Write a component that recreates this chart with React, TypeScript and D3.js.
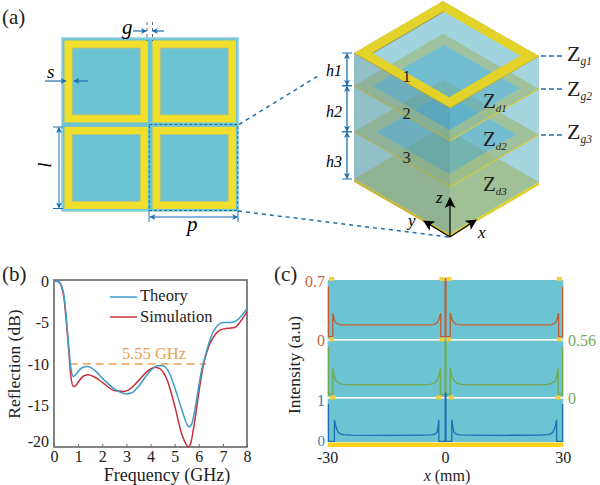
import { useEffect, useRef } from "react";
import * as d3 from "d3";

const SERIF = "'Liberation Serif', serif";

// panel (b)
const freqTicks = [0, 1, 2, 3, 4, 5, 6, 7, 8];
const dbTicks = [0, -5, -10, -15, -20];
const theoryFreq = [0, 0.2, 0.3, 0.4, 0.5, 0.6, 0.7, 0.8, 0.9, 1, 1.2, 1.4, 1.7, 2, 2.5, 3, 3.2, 3.5, 4, 4.3, 4.5, 4.8, 5, 5.3, 5.5, 5.6, 5.7, 5.9, 6.1, 6.3, 6.5, 6.8, 7, 7.3, 7.6, 7.8, 8];
const theoryDb = [0, -0.1, -0.5, -1.5, -4, -7.5, -10.5, -11.5, -11.3, -10.9, -10.4, -10.3, -10.8, -11.7, -13, -13.6, -13.5, -12.7, -10.8, -10.2, -10.2, -11.2, -12.8, -15.5, -17.2, -17.6, -17.3, -14.5, -11, -8.7, -6.8, -5.3, -5, -5, -4.7, -4.1, -3.3];
const simFreq = [0, 0.2, 0.3, 0.4, 0.5, 0.6, 0.7, 0.8, 0.9, 1, 1.2, 1.4, 1.7, 2, 2.5, 2.9, 3.2, 3.5, 4, 4.2, 4.4, 4.7, 5, 5.3, 5.5, 5.55, 5.65, 5.8, 6, 6.2, 6.4, 6.6, 6.9, 7.2, 7.5, 7.7, 8];
const simDb = [0, -0.1, -0.6, -1.8, -4.5, -8, -11.5, -12.7, -12.6, -12.2, -11.5, -11.3, -11.6, -12.2, -13.2, -13.3, -12.9, -12, -10.6, -10.4, -10.6, -12, -15, -18.5, -19.8, -20, -19.7, -17.5, -13.5, -10, -8, -6.8, -5.9, -5.7, -5.6, -5, -3.7];
const bandFreq = [0.65, 6.3];
const bandDb = -10;

// panel (c)
const xTicks = [-30, 0, 30];
const blueX = [-29.8, -29.8, -28.3, -28.3, -27.9, -27.4, -26.8, -26, -24, -15, -6, -4, -3.2, -2.6, -2.1, -1.7, -1.7, -0.1, -0.1, 0.1, 0.1, 1.6, 1.6, 2.1, 2.6, 3.2, 4, 6, 15, 24, 26, 26.8, 27.4, 27.9, 28.3, 28.3, 29.8, 29.8];
const blueY = [0.87, 0, 0, 0.5, 0.33, 0.22, 0.17, 0.155, 0.145, 0.14, 0.145, 0.15, 0.155, 0.17, 0.22, 0.5, 0, 0, 1.12, 1.12, 0, 0, 0.5, 0.22, 0.17, 0.155, 0.15, 0.145, 0.14, 0.145, 0.155, 0.17, 0.22, 0.33, 0.5, 0, 0, 0.87];
const greenX = [-29.8, -29.8, -28.7, -28.7, -28.3, -27.8, -27, -26, -24, -15, -6, -4, -3, -2.3, -1.8, -1.3, -1.3, -0.1, -0.1, 0.1, 0.1, 1.2, 1.2, 1.7, 2.3, 3, 4, 6, 15, 24, 26, 27, 27.8, 28.3, 28.7, 28.7, 29.8, 29.8];
const greenY = [0.49, 0, 0, 0.27, 0.18, 0.135, 0.115, 0.105, 0.1, 0.1, 0.1, 0.105, 0.115, 0.135, 0.18, 0.27, 0, 0, 0.56, 0.56, 0, 0, 0.27, 0.18, 0.135, 0.115, 0.105, 0.1, 0.1, 0.1, 0.105, 0.115, 0.135, 0.18, 0.27, 0, 0, 0.49];
const redX = [-29.8, -29.8, -28.7, -28.7, -28.3, -27.8, -27, -26, -24, -15, -6, -4, -3, -2.3, -1.8, -1.2, -1.2, -0.1, -0.1, 0.1, 0.1, 1.2, 1.2, 1.7, 2.3, 3, 4, 6, 15, 24, 26, 27, 27.8, 28.3, 28.8, 28.8, 29.8, 29.8];
const redY = [0.62, 0, 0, 0.29, 0.2, 0.165, 0.15, 0.145, 0.145, 0.145, 0.145, 0.145, 0.15, 0.165, 0.2, 0.29, 0, 0, 0.72, 0.72, 0, 0, 0.29, 0.2, 0.165, 0.15, 0.145, 0.145, 0.145, 0.145, 0.145, 0.15, 0.165, 0.2, 0.29, 0, 0, 0.62];
const tabsUpper = [-29, -0.9, 0.9, 29];
const tabsLower = [-28.7, -1.7, 1.5, 28.6];

// panel (a) unit cell layout, in periods
const cells = [0, 1];
const ringStart = 0.028;
const ringSize = 0.948;
const ringWidth = 0.088;

// 3d stack: height of each layer, and the width of its frame
const layerZ = [0.375, 0.74, 1];
const layerFrame = [0.12, 0.1, 0.1];
const layerNames = ["3", "2", "1"];
const heightLabels = ["h3", "h2", "h1"];

const W = 600;
const H = 485;

const Italic = ({ x, y, children, size = 17 }: any) => (
  <text x={x} y={y} fontStyle="italic" fontSize={size}>{children}</text>
);

const Impedance = ({ x, y, sub, size = 21 }: any) => (
  <text x={x} y={y} fontSize={size} fill="#222">
    Z<tspan fontSize={size * 0.52} dy={4} fontStyle="italic">{sub}</tspan>
  </text>
);

const Line = ({ x1, y1, x2, y2, both = false, color = "#1f6fb0", w = 1.2 }: any) => (
  <line
    x1={x1} y1={y1} x2={x2} y2={y2} stroke={color} strokeWidth={w}
    markerEnd="url(#arrow)"
    markerStart={both ? "url(#arrowStart)" : undefined}
  />
);

function UnitCells() {
  const sx = d3.scaleLinear().domain([0, 2]).range([62, 238]);
  const sy = d3.scaleLinear().domain([0, 2]).range([38, 211]);
  const rings: any[] = [];
  cells.forEach((c) =>
    cells.forEach((r) => {
      const x0 = sx(c + ringStart);
      const y0 = sy(r + ringStart);
      const w = sx(c + ringStart + ringSize) - x0;
      const h = sy(r + ringStart + ringSize) - y0;
      const tx = sx(ringWidth) - sx(0);
      const ty = sy(ringWidth) - sy(0);
      rings.push(
        <g key={`${c}-${r}`}>
          <rect x={x0} y={y0} width={w} height={h} fill="#f2df2c" />
          <rect x={x0 + tx} y={y0 + ty} width={w - 2 * tx} height={h - 2 * ty} fill="#6cc4d3" stroke="#b7c07a" strokeWidth={0.8} />
        </g>
      );
    })
  );
  return (
    <g>
      <rect x={sx(0)} y={sy(0)} width={sx(2) - sx(0)} height={sy(2) - sy(0)} fill="#6cc4d3" stroke="#8ed0e4" strokeWidth={1.5} />
      {rings}
      <rect x={149.3} y={124.5} width={88.4} height={86} fill="none" stroke="#2a6f8a" strokeWidth={1} strokeDasharray="3 2" />
      {/* g */}
      <Italic x={122} y={34} size={21}>g</Italic>
      <Line x1={133} y1={31} x2={146.5} y2={31} />
      <Line x1={164} y1={31} x2={152.5} y2={31} />
      <line x1={147} y1={22} x2={147} y2={41} stroke="#444" strokeWidth={0.8} strokeDasharray="3 3" />
      <line x1={152.5} y1={22} x2={152.5} y2={41} stroke="#444" strokeWidth={0.8} strokeDasharray="3 3" />
      {/* s */}
      <Italic x={47} y={78} size={19}>s</Italic>
      <Line x1={45} y1={81} x2={66} y2={81} />
      <Line x1={88} y1={81} x2={74} y2={81} />
      {/* l */}
      <text transform="translate(51,165) rotate(-90)" fontStyle="italic" fontSize={19} textAnchor="middle">l</text>
      <line x1={53} y1={127} x2={63} y2={127} stroke="#1f6fb0" strokeWidth={1} />
      <line x1={53} y1={208.5} x2={63} y2={208.5} stroke="#1f6fb0" strokeWidth={1} />
      <Line x1={59} y1={127.5} x2={59} y2={208} both w={1.4} color="#5b9bd0" />
      {/* p */}
      <line x1={149} y1={211} x2={149} y2={222} stroke="#1f6fb0" strokeWidth={1} />
      <line x1={238} y1={211} x2={238} y2={222} stroke="#1f6fb0" strokeWidth={1} />
      <Line x1={150} y1={217} x2={237.5} y2={217} both w={1.4} color="#5b9bd0" />
      <Italic x={187} y={231} size={21}>p</Italic>
      {/* leader lines to the stack */}
      <line x1={239} y1={124.5} x2={318} y2={76} stroke="#1f6fb0" strokeWidth={1.5} strokeDasharray="4 4" />
      <line x1={238} y1={211} x2={449} y2={237} stroke="#1f6fb0" strokeWidth={1.5} strokeDasharray="4 4" />
    </g>
  );
}

function Stack() {
  // oblique projection of the box
  const px = d3.scaleLinear().domain([0, 1]).range([0, 89]);
  const qx = d3.scaleLinear().domain([0, 1]).range([0, -96]);
  const py = d3.scaleLinear().domain([0, 1]).range([0, -52]);
  const qy = d3.scaleLinear().domain([0, 1]).range([0, -55]);
  const zs = d3.scaleLinear().domain([0, 1]).range([0, -126]);
  const P = (x: number, y: number, z: number): [number, number] => [
    450 + px(x) + qx(y),
    234 + py(x) + qy(y) + zs(z),
  ];
  const path = d3.line();
  const quad = (pts: [number, number, number][]) => path(pts.map((p) => P(p[0], p[1], p[2]))) + "Z";
  const diamond = (z: number, t = 0) =>
    quad([[t, t, z], [1 - t, t, z], [1 - t, 1 - t, z], [t, 1 - t, z]]);
  const frame = (z: number, t: number) => diamond(z) + diamond(z, t);
  const edgeLeft = (z: number) => quad([[0, 0, z], [0, 1, z]]).replace("Z", "");
  const edgeRight = (z: number) => quad([[0, 0, z], [1, 0, z]]).replace("Z", "");
  const bases = [0, ...layerZ];
  const top = 1;
  return (
    <g>
      {/* box body */}
      <path d={diamond(top)} fill="#a1d4df" />
      <path d={quad([[0, 0, 0], [1, 0, 0], [1, 0, top], [0, 0, top]])} fill="#a6d4de" />
      <path d={quad([[0, 0, 0], [0, 1, 0], [0, 1, top], [0, 0, top]])} fill="#a6d0d8" />

      {/* ground plane */}
      <path d={diamond(0)} fill="#9fc091" opacity={0.95} />
      <path d={quad([[0, 0, 0], [0, 1, 0], [0, 1, -0.024], [0, 0, -0.024]])} fill="#c6b63a" />
      <path d={quad([[0, 0, 0], [1, 0, 0], [1, 0, -0.024], [0, 0, -0.024]])} fill="#dccf2e" />

      {/* the two sheets inside */}
      {layerZ.slice(0, 2).map((z, i) => (
        <g key={z}>
          <path d={diamond(z, layerFrame[i])} fill="#4fa9c2" opacity={0.55} />
          <path d={frame(z, layerFrame[i])} fillRule="evenodd" fill="#9dbd8a" opacity={0.78} />
          <path d={edgeLeft(z)} stroke="#c9bf45" strokeWidth={1.1} fill="none" />
          <path d={edgeRight(z)} stroke="#d6cc3c" strokeWidth={1.1} fill="none" />
        </g>
      ))}

      {/* darker near left face */}
      <path d={quad([[0, 0, 0], [0, 1, 0], [0, 1, top], [0, 0, top]])} fill="#4d7f8e" opacity={0.2} />

      {/* top frame */}
      <path d={frame(top, layerFrame[2])} fillRule="evenodd" fill="#e3d22a" />
      <path d={edgeLeft(top)} stroke="#a89a28" strokeWidth={0.8} fill="none" />
      <path d={edgeRight(top)} stroke="#bcae28" strokeWidth={0.8} fill="none" />
      <path d={quad([[layerFrame[2], 1 - layerFrame[2], top], [1 - layerFrame[2], 1 - layerFrame[2], top]]).replace("Z", "")} stroke="#8d8a40" strokeWidth={0.8} fill="none" />

      {layerNames.map((n, i) => (
        <text key={n} x={406.5} y={[163, 119, 82][i]} fontSize={16.5} textAnchor="middle" fill="#222">{n}</text>
      ))}
      <Impedance x={483} y={108} sub="d1" />
      <Impedance x={483} y={146} sub="d2" />
      <Impedance x={483} y={191} sub="d3" />

      {/* heights */}
      {heightLabels.map((h, i) => {
        const y0 = P(0, 1, bases[i])[1];
        const y1 = P(0, 1, layerZ[i])[1];
        return (
          <g key={h}>
            <line x1={342} y1={y0} x2={352} y2={y0} stroke="#1f6fb0" strokeWidth={1} />
            <line x1={342} y1={y1} x2={352} y2={y1} stroke="#1f6fb0" strokeWidth={1} />
            <Line x1={347} y1={y0 - 0.5} x2={347} y2={y1 + 0.5} both w={1.4} color="#2a7fbd" />
            <Italic x={326} y={[167, 117, 76][i]} size={16}>{h}</Italic>
          </g>
        );
      })}

      {/* impedances of the sheets */}
      {layerZ.map((z, i) => {
        const y = [135, 89, 56][i];
        return <line key={z} x1={541} y1={y} x2={563} y2={y} stroke="#1f6fb0" strokeWidth={1.5} strokeDasharray="5 3" />;
      })}
      <Impedance x={567} y={61} sub="g1" size={22} />
      <Impedance x={567} y={96} sub="g2" size={22} />
      <Impedance x={567} y={139} sub="g3" size={22} />

      {/* axes */}
      <line x1={450} y1={237} x2={450} y2={198} stroke="#000" strokeWidth={1.2} markerEnd="url(#arrowBlack)" />
      <line x1={450} y1={237} x2={476} y2={220} stroke="#000" strokeWidth={1.2} markerEnd="url(#arrowBlack)" />
      <line x1={450} y1={237} x2={424} y2={221} stroke="#000" strokeWidth={1.2} markerEnd="url(#arrowBlack)" />
      <Italic x={436} y={203} size={17}>z</Italic>
      <Italic x={408} y={226} size={17}>y</Italic>
      <Italic x={478} y={238} size={17}>x</Italic>
    </g>
  );
}

function Reflection() {
  const axisX = useRef<SVGGElement>(null);
  const axisY = useRef<SVGGElement>(null);
  const x = d3.scaleLinear().domain([0, 8]).range([54, 247]);
  const y = d3.scaleLinear().domain([0, -20]).range([281, 447]);
  const mk = (fs: number[], ds: number[]) =>
    d3.line<number>().x((f) => x(f)).y((_, i) => y(ds[i])).curve(d3.curveMonotoneX)(fs) || "";

  useEffect(() => {
    const style = (g: any) => {
      g.select(".domain").remove();
      g.selectAll("line").attr("stroke", "#666").attr("stroke-width", 1);
      g.selectAll("text").attr("font-family", SERIF).attr("font-size", 16).attr("fill", "#222");
    };
    d3.select(axisX.current).call(d3.axisBottom(x).tickValues(freqTicks).tickSize(-3).tickPadding(4) as any).call(style);
    d3.select(axisY.current).call(d3.axisLeft(y).tickValues(dbTicks).tickSize(0).tickPadding(5).tickFormat((d) => `${d}`) as any).call(style);
    // bottom label sits a little above its tick, so it clears the x axis
    d3.select(axisY.current).selectAll("text").filter((d: any) => d === -20).attr("dy", "-0.05em");
  }, []);

  return (
    <g>
      <g ref={axisX} transform="translate(0,447)" />
      <g ref={axisY} transform="translate(54,0)" />
      <rect x={54} y={280} width={193} height={167} fill="none" stroke="#666" strokeWidth={1.6} />
      <line x1={x(bandFreq[0])} x2={x(bandFreq[1])} y1={y(bandDb)} y2={y(bandDb)} stroke="#e8a04e" strokeWidth={1.5} strokeDasharray="8 5" />
      <path d={mk(simFreq, simDb)} fill="none" stroke="#c8323a" strokeWidth={1.5} />
      <path d={mk(theoryFreq, theoryDb)} fill="none" stroke="#3d9cc8" strokeWidth={1.5} />
      <text x={154} y={359} fontSize={16.5} fill="#e8a04e" textAnchor="middle">5.55 GHz</text>
      <line x1={110} x2={137} y1={297} y2={297} stroke="#3d9cc8" strokeWidth={1.5} />
      <line x1={110} x2={137} y1={317} y2={317} stroke="#c8323a" strokeWidth={1.5} />
      <text x={140} y={301} fontSize={16.5} fill="#222">Theory</text>
      <text x={140} y={322} fontSize={16.5} fill="#222">Simulation</text>
      <text x={167} y={481} fontSize={18} fill="#222" textAnchor="middle">Frequency (GHz)</text>
      <text transform="translate(20,364) rotate(-90)" fontSize={17.5} fill="#222" textAnchor="middle">Reflection (dB)</text>
    </g>
  );
}

function Intensity() {
  const x = d3.scaleLinear().domain([-30, 30]).range([327.7, 563.3]);
  const yRed = d3.scaleLinear().domain([0, 0.7]).range([336.7, 280]);
  const yGreen = d3.scaleLinear().domain([0, 0.56]).range([394.5, 340]);
  const yBlue = d3.scaleLinear().domain([0, 1]).range([441.3, 398.3]);
  const mk = (xs: number[], vs: number[], sc: any) =>
    d3.line<number>().x((d) => x(d)).y((_, i) => sc(vs[i]))(xs) || "";
  return (
    <g>
      <rect x={x(-30)} y={280} width={x(30) - x(-30)} height={162} fill="#6cc4d3" />
      <rect x={x(-30)} y={339} width={x(30) - x(-30)} height={1.6} fill="#fff" />
      <rect x={x(-30)} y={397} width={x(30) - x(-30)} height={1.6} fill="#fff" />
      <rect x={x(-30)} y={442.5} width={x(30) - x(-30)} height={4.5} fill="#ffd21f" />
      <path d={mk(redX, redY, yRed)} fill="none" stroke="#c25c34" strokeWidth={1.3} />
      <path d={mk(greenX, greenY, yGreen)} fill="none" stroke="#6fa850" strokeWidth={1.3} />
      <path d={mk(blueX, blueY, yBlue)} fill="none" stroke="#1d6db3" strokeWidth={1.3} />
      {tabsUpper.map((t) => (
        <g key={t}>
          <rect x={x(t) - 2.5} y={277} width={5} height={4} fill="#f4cf3a" />
          <rect x={x(t) - 2.5} y={337.5} width={5} height={4} fill="#f4cf3a" />
        </g>
      ))}
      {tabsLower.map((t) => (
        <rect key={t} x={x(t) - 2.7} y={395.5} width={5.4} height={4} fill="#f4cf3a" />
      ))}
      {xTicks.map((t) => (
        <text key={t} x={x(t)} y={463} fontSize={16} fill="#222" textAnchor="middle">{t}</text>
      ))}
      <text x={447} y={481} fontSize={16} fill="#222" textAnchor="middle">
        <tspan fontStyle="italic">x</tspan> (mm)
      </text>
      <text transform="translate(300,365) rotate(-90)" fontSize={17.5} fill="#222" textAnchor="middle">Intensity (a.u)</text>
      <text x={325} y={287} fontSize={16} fill="#c8673f" textAnchor="end">0.7</text>
      <text x={325} y={346} fontSize={16} fill="#c8673f" textAnchor="end">0</text>
      <text x={325} y={406} fontSize={16} fill="#3a7db5" textAnchor="end">1</text>
      <text x={325} y={445.5} fontSize={15} fill="#3a7db5" textAnchor="end">0</text>
      <text x={568} y={346} fontSize={16} fill="#7aa85a">0.56</text>
      <text x={568} y={404} fontSize={16} fill="#7aa85a">0</text>
    </g>
  );
}

export default function App() {
  return (
    <svg width={W} height={H} style={{ position: "absolute", left: 0, top: 0 }} fontFamily={SERIF}>
      <defs>
        <marker id="arrow" viewBox="0 0 10 10" refX="9" refY="5" markerWidth="6" markerHeight="6" markerUnits="userSpaceOnUse" orient="auto">
          <path d="M0,0 L10,5 L0,10 L2.5,5 Z" fill="#1f6fb0" />
        </marker>
        <marker id="arrowStart" viewBox="0 0 10 10" refX="1" refY="5" markerWidth="6" markerHeight="6" markerUnits="userSpaceOnUse" orient="auto">
          <path d="M10,0 L0,5 L10,10 L7.5,5 Z" fill="#1f6fb0" />
        </marker>
        <marker id="arrowBlack" viewBox="0 0 10 10" refX="9" refY="5" markerWidth="11" markerHeight="11" markerUnits="userSpaceOnUse" orient="auto">
          <path d="M0,0 L10,5 L0,10 L2.5,5 Z" fill="#000" />
        </marker>
      </defs>
      <text x={2} y={24} fontSize={21} fill="#222">(a)</text>
      <text x={2} y={281} fontSize={21} fill="#222">(b)</text>
      <text x={274} y={281} fontSize={21} fill="#222">(c)</text>
      <UnitCells />
      <Stack />
      <Reflection />
      <Intensity />
    </svg>
  );
}
